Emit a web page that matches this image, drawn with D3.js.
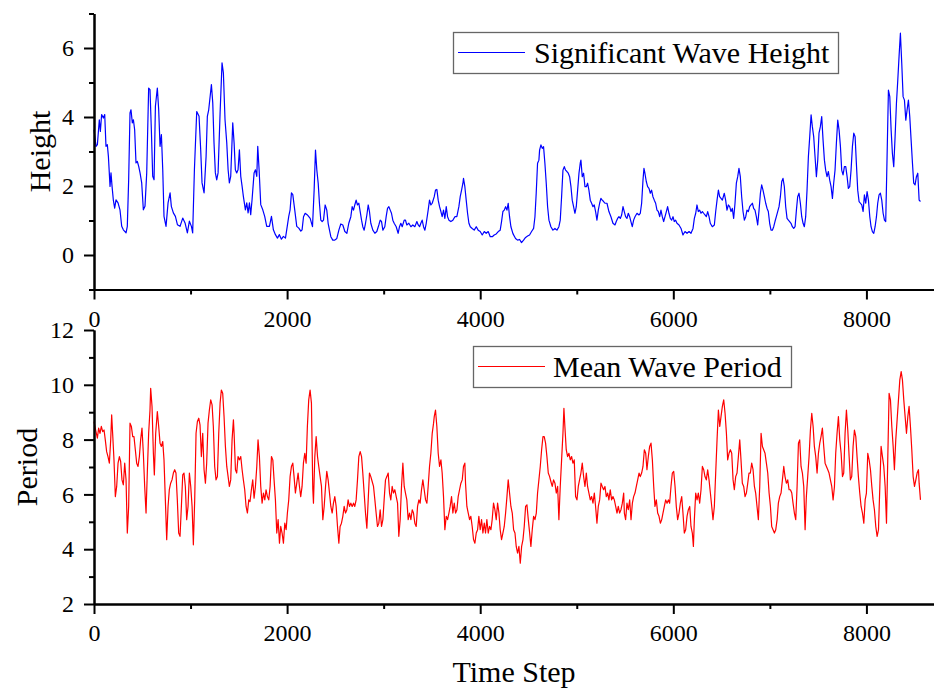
<!DOCTYPE html>
<html>
<head>
<meta charset="utf-8">
<script src="https://cdn.jsdelivr.net/npm/d3@7"></script>
<style>
  body { margin: 0; background: #fff; }
  svg { display: block; }
  text { font-family: "Liberation Serif", "Times New Roman", serif; fill: #000; }
</style>
</head>
<body>
<svg id="chart" width="934" height="695"></svg>
<script>
// ---- data -------------------------------------------------------------
const timeTicks = [0, 2000, 4000, 6000, 8000];
const timeMinorTicks = [1000, 3000, 5000, 7000];
const heightTicks = [0, 2, 4, 6];
const heightMinorTicks = [-1, 1, 3, 5, 7];
const periodTicks = [2, 4, 6, 8, 10, 12];
const periodMinorTicks = [3, 5, 7, 9, 11];
const seriesNames = ["Significant Wave Height", "Mean Wave Period"];
const axisTitles = { x: "Time Step", height: "Height", period: "Period" };

// [time step, significant wave height]
const heightSeries = [
[0,3.63],[21,3.15],[35,3.20],[55,3.92],[66,3.58],[79,4.07],[97,3.97],[111,4.07],[124,3.15],[138,3.20],
[149,2.86],[166,1.99],[176,2.38],[187,1.99],[200,1.60],[214,1.36],[228,1.60],[249,1.51],[269,1.31],[287,0.83],
[304,0.73],[332,0.64],[345,0.83],[359,2.18],[373,4.12],[383,4.21],[397,3.83],[408,3.92],[421,3.63],[435,2.67],
[449,2.71],[463,2.57],[477,2.38],[494,2.09],[511,1.31],[528,1.41],[546,2.38],[566,4.84],[580,4.79],[594,3.63],
[608,2.28],[622,2.18],[636,4.31],[656,4.84],[670,4.21],[684,3.15],[698,3.49],[712,2.47],[725,1.12],[746,0.83],
[767,1.51],[788,1.80],[801,1.41],[822,1.22],[843,1.12],[864,0.88],[891,0.83],[919,1.07],[943,0.93],[967,0.64],
[988,0.98],[1009,0.83],[1022,0.64],[1040,2.47],[1064,4.16],[1088,4.02],[1105,3.05],[1119,2.09],[1140,1.80],[1161,2.86],
[1174,4.02],[1188,4.21],[1216,4.94],[1230,4.41],[1243,3.25],[1257,2.38],[1271,2.18],[1285,2.38],[1306,4.12],[1326,5.57],
[1340,5.28],[1357,3.92],[1375,3.25],[1389,2.47],[1402,2.09],[1416,2.28],[1437,3.83],[1451,3.25],[1464,2.47],[1478,2.38],
[1492,2.47],[1506,3.05],[1520,2.28],[1534,1.99],[1547,1.70],[1568,1.31],[1582,1.51],[1596,1.22],[1610,1.51],[1623,1.17],
[1637,1.60],[1658,2.38],[1672,2.47],[1686,2.28],[1696,3.15],[1710,2.47],[1727,1.46],[1748,1.31],[1768,1.12],[1789,0.83],
[1817,0.83],[1838,1.12],[1858,0.73],[1879,0.59],[1900,0.49],[1920,0.59],[1941,0.46],[1962,0.54],[1983,0.49],[1996,0.73],
[2017,1.12],[2031,1.31],[2045,1.80],[2059,1.75],[2079,1.31],[2100,0.83],[2121,0.78],[2142,0.69],[2155,0.73],[2170,1.11],
[2187,1.21],[2210,1.16],[2239,1.06],[2263,0.82],[2280,1.88],[2294,3.04],[2308,2.46],[2322,2.08],[2335,1.50],[2349,1.01],
[2363,0.97],[2377,1.01],[2394,1.45],[2411,1.30],[2425,0.92],[2439,0.72],[2453,0.53],[2473,0.43],[2494,0.43],[2515,0.48],
[2536,0.72],[2556,0.90],[2577,0.87],[2598,0.68],[2619,0.63],[2639,0.92],[2660,1.11],[2674,1.40],[2688,1.30],[2701,1.45],
[2715,1.59],[2729,1.45],[2743,1.50],[2757,1.26],[2771,1.01],[2784,0.82],[2798,0.72],[2812,0.92],[2826,1.16],[2840,1.45],
[2853,1.26],[2867,0.92],[2888,0.72],[2909,0.63],[2929,0.68],[2950,0.87],[2964,1.01],[2978,0.97],[2992,0.72],[3012,0.82],
[3026,1.11],[3040,1.35],[3054,1.40],[3068,1.30],[3081,1.21],[3095,1.01],[3109,0.92],[3130,0.82],[3150,0.63],[3164,0.82],
[3178,0.92],[3192,0.82],[3213,1.01],[3226,1.01],[3240,0.87],[3261,0.92],[3282,0.82],[3302,0.87],[3323,0.82],[3344,0.97],
[3358,0.87],[3372,0.82],[3385,0.92],[3399,1.01],[3413,0.82],[3427,0.72],[3441,0.92],[3461,1.30],[3475,1.59],[3489,1.45],
[3503,1.50],[3524,1.69],[3537,1.88],[3551,1.90],[3565,1.59],[3579,1.40],[3593,1.26],[3606,1.11],[3620,1.30],[3634,1.06],
[3648,1.40],[3662,1.11],[3676,1.01],[3696,0.97],[3717,1.01],[3738,1.11],[3758,1.11],[3779,1.40],[3793,1.69],[3807,1.88],
[3821,2.08],[3827,2.22],[3841,1.98],[3855,1.59],[3869,1.21],[3883,0.92],[3897,0.82],[3917,0.77],[3938,0.72],[3959,0.82],
[3979,0.72],[4000,0.68],[4021,0.58],[4042,0.68],[4062,0.63],[4083,0.68],[4104,0.53],[4125,0.53],[4145,0.58],[4166,0.61],
[4187,0.68],[4207,0.72],[4221,0.97],[4235,1.26],[4249,1.30],[4263,1.40],[4277,1.30],[4290,1.50],[4304,1.11],[4318,0.82],
[4339,0.62],[4366,0.48],[4387,0.43],[4408,0.45],[4428,0.36],[4449,0.43],[4470,0.51],[4491,0.55],[4511,0.58],[4532,0.68],
[4553,0.77],[4567,1.11],[4580,1.79],[4594,2.66],[4608,2.75],[4615,3.04],[4629,3.19],[4643,3.09],[4656,3.14],[4670,2.66],
[4684,2.08],[4698,1.40],[4712,1.01],[4732,0.82],[4753,0.72],[4774,0.77],[4795,0.72],[4815,0.82],[4829,1.01],[4843,1.69],
[4857,2.46],[4871,2.56],[4884,2.46],[4898,2.42],[4912,2.37],[4926,2.27],[4940,1.98],[4953,1.59],[4967,1.40],[4981,1.21],
[4995,1.40],[5009,1.88],[5023,2.37],[5036,2.66],[5043,2.75],[5057,2.27],[5071,2.37],[5085,1.98],[5099,1.98],[5112,2.08],
[5126,1.88],[5140,1.59],[5154,1.50],[5168,1.40],[5181,1.45],[5195,1.26],[5209,1.01],[5223,1.30],[5237,1.50],[5250,1.64],
[5264,1.59],[5278,1.55],[5292,1.50],[5313,1.50],[5333,1.26],[5354,1.11],[5375,0.92],[5396,0.87],[5409,0.97],[5423,1.06],
[5437,1.11],[5451,1.06],[5465,1.16],[5479,1.40],[5492,1.26],[5506,1.11],[5520,1.06],[5534,1.21],[5548,1.11],[5561,0.97],
[5575,0.82],[5589,1.01],[5603,1.11],[5624,1.21],[5644,1.16],[5658,1.21],[5672,1.50],[5686,2.17],[5696,2.51],[5706,2.37],
[5720,2.13],[5734,1.98],[5748,1.93],[5762,1.79],[5775,1.88],[5789,1.69],[5803,1.59],[5817,1.50],[5831,1.30],[5845,1.26],
[5859,1.11],[5872,1.30],[5886,1.11],[5900,0.97],[5914,1.11],[5928,1.26],[5941,1.40],[5955,1.21],[5969,1.06],[5983,1.01],
[5997,1.11],[6010,0.97],[6024,1.01],[6038,0.92],[6059,0.87],[6080,0.77],[6100,0.58],[6121,0.68],[6142,0.63],[6163,0.68],
[6183,0.63],[6204,0.77],[6218,1.06],[6232,1.21],[6245,1.45],[6259,1.26],[6273,1.30],[6287,1.21],[6301,1.26],[6314,1.21],
[6328,1.16],[6342,1.11],[6356,1.26],[6370,1.11],[6383,0.92],[6404,0.82],[6425,0.87],[6439,1.26],[6453,1.59],[6467,1.88],
[6480,1.69],[6494,1.64],[6508,1.59],[6528,1.79],[6542,1.59],[6556,1.30],[6570,1.45],[6584,1.40],[6598,1.26],[6611,1.35],
[6625,1.06],[6639,1.50],[6653,2.08],[6667,2.27],[6680,2.51],[6694,2.27],[6708,1.69],[6722,1.26],[6736,1.01],[6750,1.11],
[6763,1.30],[6777,1.26],[6791,1.40],[6805,1.45],[6819,1.50],[6832,1.35],[6846,1.30],[6860,1.11],[6874,0.87],[6888,1.30],
[6902,1.79],[6915,2.03],[6929,1.88],[6943,1.69],[6957,1.50],[6971,1.35],[6984,1.26],[6998,0.92],[7012,0.72],[7026,0.72],
[7040,0.82],[7053,0.97],[7067,1.11],[7081,1.26],[7095,1.40],[7109,1.69],[7123,2.13],[7136,2.22],[7150,1.98],[7164,1.40],
[7178,1.06],[7192,1.01],[7205,0.97],[7219,0.92],[7233,0.82],[7247,0.77],[7261,0.82],[7275,1.30],[7288,1.69],[7302,1.79],
[7316,1.50],[7330,1.11],[7344,0.92],[7357,0.82],[7371,1.11],[7385,1.88],[7399,2.85],[7413,3.43],[7427,4.06],[7440,3.72],
[7454,3.43],[7468,2.85],[7482,2.27],[7496,2.75],[7509,3.53],[7523,3.72],[7537,4.01],[7551,3.33],[7565,2.75],[7578,2.46],
[7592,2.27],[7606,2.42],[7620,2.17],[7634,1.98],[7648,1.64],[7661,2.08],[7675,2.46],[7689,3.24],[7703,3.91],[7717,3.62],
[7731,3.14],[7744,2.46],[7758,2.32],[7772,2.56],[7786,2.56],[7800,2.27],[7813,1.93],[7827,1.98],[7841,2.46],[7855,3.14],
[7869,3.53],[7883,3.43],[7896,2.66],[7910,1.88],[7924,1.55],[7938,1.50],[7952,1.45],[7966,1.26],[7979,1.74],[7993,1.50],
[8007,1.84],[8021,1.59],[8035,1.11],[8048,0.82],[8062,0.68],[8076,0.63],[8090,0.82],[8104,1.11],[8117,1.50],[8131,1.74],
[8145,1.79],[8159,1.59],[8173,1.21],[8187,1.01],[8200,0.97],[8214,2.85],[8228,4.78],[8242,4.59],[8256,3.62],[8269,2.95],
[8283,2.56],[8297,3.43],[8311,4.40],[8325,5.07],[8338,5.75],[8352,6.43],[8366,5.56],[8380,4.59],[8394,4.49],[8408,3.91],
[8421,4.20],[8435,4.49],[8449,4.01],[8463,3.33],[8477,2.66],[8490,2.08],[8504,2.03],[8518,2.27],[8532,2.37],[8546,1.59],
[8560,1.55]
];

// [time step, mean wave period]
const periodSeries = [
[0,8.66],[17,8.35],[35,8.05],[48,8.42],[62,8.23],[76,8.48],[90,8.29],[104,8.35],[117,7.99],[131,7.56],
[145,7.38],[159,7.14],[173,7.99],[183,8.90],[193,8.23],[207,7.26],[221,5.92],[235,6.29],[249,7.14],[263,7.38],
[276,7.20],[290,6.53],[304,6.35],[318,7.14],[332,6.53],[345,4.59],[359,5.56],[373,8.60],[387,8.48],[401,8.11],
[414,8.11],[428,7.63],[442,7.14],[456,7.02],[470,7.38],[483,7.99],[497,8.42],[511,7.50],[525,6.29],[539,5.32],
[552,6.78],[566,8.23],[580,9.08],[587,9.87],[601,9.21],[615,7.50],[625,6.71],[639,8.23],[656,9.02],[670,8.48],
[684,7.87],[698,7.75],[712,7.93],[725,7.26],[739,5.80],[753,4.35],[767,5.56],[780,6.17],[794,6.41],[808,6.53],
[822,6.78],[836,6.90],[849,6.78],[863,5.80],[877,4.59],[891,4.47],[905,5.56],[919,6.71],[932,6.78],[946,6.29],
[960,5.08],[974,5.56],[988,6.78],[1002,6.29],[1016,5.56],[1029,4.16],[1043,5.80],[1057,8.23],[1071,8.66],[1085,8.78],
[1098,8.54],[1112,7.38],[1126,8.23],[1140,6.90],[1154,6.41],[1167,7.14],[1181,8.60],[1195,9.08],[1209,9.45],[1223,9.27],
[1236,8.48],[1250,7.02],[1264,6.53],[1278,6.65],[1292,8.23],[1306,9.33],[1319,9.81],[1333,9.69],[1347,8.84],[1361,7.75],
[1375,7.02],[1389,6.65],[1402,6.29],[1416,6.53],[1430,7.99],[1444,8.72],[1451,8.23],[1465,6.90],[1478,6.78],[1492,7.38],
[1506,7.26],[1520,7.38],[1534,6.90],[1547,6.53],[1561,6.17],[1575,5.56],[1589,5.32],[1603,5.80],[1616,5.74],[1630,6.17],
[1644,6.53],[1658,5.86],[1672,6.29],[1686,7.02],[1699,7.99],[1713,7.38],[1727,6.29],[1741,5.68],[1755,6.05],[1769,5.80],
[1782,6.17],[1796,5.92],[1810,5.80],[1824,6.29],[1838,7.38],[1852,7.26],[1865,6.53],[1879,5.80],[1893,4.59],[1907,5.08],
[1921,4.22],[1934,4.83],[1948,4.59],[1962,4.22],[1976,4.95],[1990,4.71],[2003,5.32],[2017,5.80],[2031,6.65],[2045,7.02],
[2059,7.14],[2072,6.65],[2086,6.05],[2100,6.41],[2114,6.78],[2128,6.29],[2141,5.92],[2155,6.29],[2169,7.14],[2183,7.50],
[2197,7.14],[2210,8.48],[2224,9.45],[2238,9.81],[2252,9.33],[2266,6.20],[2273,5.68],[2287,7.38],[2301,8.11],[2315,7.38],
[2328,7.02],[2342,6.65],[2356,6.29],[2370,5.08],[2384,5.56],[2398,6.29],[2411,6.84],[2425,6.53],[2439,6.05],[2453,5.56],
[2467,5.32],[2480,5.68],[2494,5.92],[2508,5.56],[2522,4.83],[2536,4.22],[2549,4.83],[2563,4.95],[2577,5.20],[2591,5.56],
[2605,5.32],[2619,5.44],[2632,5.80],[2646,5.56],[2660,5.68],[2674,5.56],[2688,5.68],[2701,5.56],[2715,5.80],[2729,6.53],
[2743,7.38],[2757,7.56],[2771,7.38],[2784,6.78],[2798,6.05],[2812,5.32],[2826,4.77],[2840,5.80],[2853,6.78],[2867,6.65],
[2881,6.47],[2895,6.29],[2909,5.80],[2922,5.32],[2936,4.83],[2950,4.95],[2964,5.44],[2978,4.83],[2992,5.08],[3005,5.80],
[3019,6.53],[3033,6.65],[3047,6.78],[3061,6.05],[3074,5.80],[3088,6.29],[3102,6.05],[3116,6.17],[3130,5.92],[3144,5.68],
[3157,4.47],[3171,5.08],[3185,6.29],[3199,7.14],[3213,6.29],[3226,6.05],[3240,5.80],[3254,5.08],[3268,5.32],[3282,5.08],
[3296,5.44],[3309,5.32],[3323,4.95],[3337,4.83],[3351,5.56],[3365,5.80],[3378,5.68],[3392,6.17],[3406,6.53],[3420,6.17],
[3434,5.80],[3448,5.68],[3461,6.29],[3475,7.02],[3489,7.50],[3503,8.23],[3517,8.60],[3524,8.84],[3537,9.08],[3551,8.48],
[3565,7.50],[3579,7.02],[3593,7.26],[3606,6.78],[3620,5.92],[3634,4.71],[3648,5.20],[3662,5.08],[3676,5.32],[3689,5.56],
[3703,5.92],[3717,5.32],[3731,5.68],[3745,5.32],[3759,5.44],[3772,5.92],[3786,6.17],[3800,6.41],[3814,6.53],[3827,7.02],
[3841,7.14],[3848,6.41],[3862,5.56],[3876,5.32],[3890,5.08],[3903,5.20],[3917,4.83],[3931,4.35],[3945,4.22],[3959,4.59],
[3973,4.71],[3986,5.20],[4000,4.71],[4014,5.08],[4028,4.59],[4042,4.95],[4055,4.59],[4069,5.08],[4083,4.59],[4097,4.83],
[4111,4.71],[4124,5.08],[4138,5.68],[4152,5.44],[4166,5.08],[4180,5.68],[4194,5.32],[4207,4.71],[4221,4.35],[4235,4.59],
[4249,4.83],[4263,5.32],[4277,5.92],[4290,6.53],[4304,6.05],[4318,5.56],[4332,5.32],[4346,4.71],[4360,4.59],[4373,4.10],
[4387,3.86],[4401,4.10],[4415,3.49],[4429,4.10],[4443,4.35],[4456,4.83],[4470,5.56],[4484,5.62],[4498,5.08],[4512,4.59],
[4525,4.10],[4539,4.71],[4553,5.20],[4567,5.08],[4581,5.32],[4594,6.05],[4608,6.53],[4622,7.02],[4636,7.63],[4650,8.11],
[4663,8.11],[4677,7.87],[4691,7.38],[4705,6.78],[4719,6.65],[4732,6.47],[4746,6.29],[4760,6.53],[4774,6.41],[4788,6.05],
[4802,6.29],[4815,5.08],[4829,6.29],[4843,7.26],[4857,8.23],[4867,9.14],[4877,8.48],[4891,7.63],[4905,7.38],[4919,7.50],
[4933,7.26],[4947,7.38],[4960,7.14],[4974,7.26],[4988,5.92],[5002,5.80],[5016,6.29],[5029,6.53],[5043,6.78],[5057,7.14],
[5071,6.65],[5085,6.29],[5099,6.78],[5112,6.29],[5126,6.05],[5140,5.80],[5154,5.92],[5168,5.68],[5182,6.05],[5195,5.56],
[5209,4.95],[5223,5.56],[5237,5.80],[5251,6.41],[5264,6.29],[5278,6.17],[5292,6.29],[5306,5.92],[5320,6.05],[5333,5.80],
[5347,6.17],[5361,5.80],[5375,5.92],[5389,5.80],[5403,5.56],[5417,5.32],[5430,5.56],[5444,5.32],[5458,5.44],[5472,5.68],
[5486,6.05],[5493,5.32],[5506,5.08],[5520,5.68],[5534,5.44],[5548,5.80],[5562,5.08],[5576,5.68],[5589,5.92],[5603,6.05],
[5617,6.29],[5631,6.53],[5645,6.78],[5658,6.65],[5672,6.78],[5686,7.02],[5700,7.63],[5714,7.50],[5727,6.90],[5741,7.38],
[5755,7.75],[5769,7.87],[5783,7.26],[5797,6.29],[5810,5.56],[5824,5.80],[5838,5.32],[5852,5.20],[5866,4.95],[5880,5.08],
[5893,5.32],[5907,5.56],[5921,5.80],[5935,5.68],[5949,5.80],[5962,5.68],[5976,6.29],[5990,6.78],[6004,6.84],[6018,6.29],
[6031,5.56],[6045,5.08],[6059,5.32],[6073,5.68],[6087,5.92],[6100,5.32],[6114,4.59],[6128,4.71],[6142,5.20],[6156,5.44],
[6170,5.56],[6183,4.83],[6197,4.59],[6208,4.10],[6218,5.08],[6232,6.05],[6246,5.80],[6259,6.05],[6273,5.68],[6287,6.17],
[6301,7.02],[6315,6.90],[6328,6.65],[6342,6.53],[6356,6.90],[6370,6.53],[6384,6.05],[6398,5.56],[6411,5.08],[6425,5.56],
[6439,6.78],[6453,7.99],[6467,9.08],[6481,8.48],[6494,8.84],[6508,9.21],[6522,9.45],[6536,8.96],[6550,8.23],[6563,7.26],
[6577,7.50],[6591,7.63],[6605,7.50],[6619,6.53],[6632,6.17],[6646,6.65],[6660,6.78],[6674,7.38],[6688,7.99],[6701,7.26],
[6715,6.41],[6729,6.29],[6743,5.92],[6757,6.05],[6771,6.41],[6784,6.78],[6798,6.78],[6812,7.14],[6826,6.90],[6840,6.29],
[6853,6.05],[6867,5.56],[6881,5.08],[6895,6.29],[6909,8.23],[6923,7.75],[6936,7.63],[6950,7.50],[6964,7.14],[6978,6.78],
[6992,6.05],[7006,5.56],[7019,4.83],[7033,4.71],[7047,4.59],[7061,4.71],[7075,5.08],[7088,5.68],[7102,5.92],[7116,6.05],
[7130,6.53],[7144,7.02],[7157,6.65],[7171,6.41],[7185,6.53],[7199,6.17],[7213,6.17],[7227,6.05],[7240,5.68],[7254,5.32],
[7268,5.08],[7282,6.29],[7296,7.87],[7309,7.99],[7323,7.02],[7337,6.78],[7351,6.29],[7365,4.71],[7378,5.92],[7392,6.65],
[7406,7.38],[7420,8.35],[7434,8.96],[7448,8.48],[7461,7.75],[7475,7.38],[7489,6.78],[7503,7.50],[7517,7.87],[7530,8.11],
[7544,8.42],[7558,7.75],[7572,7.14],[7586,7.02],[7600,6.90],[7613,6.78],[7627,6.53],[7641,6.29],[7655,5.80],[7669,6.29],
[7682,7.50],[7696,8.23],[7710,8.84],[7724,7.99],[7738,7.50],[7752,6.65],[7765,6.78],[7779,8.23],[7793,9.08],[7807,8.35],
[7821,7.38],[7834,6.53],[7848,6.65],[7862,7.75],[7876,8.35],[7890,8.11],[7903,7.38],[7917,6.65],[7931,6.05],[7945,5.56],
[7959,5.32],[7973,4.95],[7987,5.80],[8000,6.05],[8014,7.50],[8028,7.26],[8042,6.90],[8056,6.29],[8069,5.80],[8083,5.44],
[8097,4.83],[8111,4.47],[8125,4.71],[8139,6.29],[8152,7.75],[8166,7.38],[8180,7.02],[8194,6.29],[8208,4.95],[8221,7.26],
[8235,9.69],[8249,9.45],[8263,8.48],[8277,7.75],[8290,6.90],[8304,7.99],[8318,8.72],[8332,9.45],[8346,10.18],[8360,10.48],
[8373,10.18],[8387,9.45],[8401,8.84],[8415,8.23],[8429,8.84],[8442,9.21],[8456,8.48],[8470,7.63],[8484,6.65],[8498,6.29],
[8512,6.53],[8525,6.78],[8539,6.90],[8546,6.41],[8560,5.80]
];

// ---- layout -----------------------------------------------------------
const svg = d3.select("#chart");
const x = d3.scaleLinear().domain([0, 8700]).range([94, 934]);
const serif = '"Liberation Serif", "Times New Roman", serif';

const panels = [
  {
    data: heightSeries, domain: [-1, 7], range: [289.5, 13.5],
    ticks: heightTicks, minor: heightMinorTicks, color: "#0000ff",
    title: axisTitles.height, titleX: 50,
    name: seriesNames[0],
    legend: { x: 453, y: 32, w: 385, h: 41, lineX: 458, lineLen: 67, textX: 534 }
  },
  {
    data: periodSeries, domain: [2, 12], range: [604, 330],
    ticks: periodTicks, minor: periodMinorTicks, color: "#ff0000",
    title: axisTitles.period, titleX: 37,
    name: seriesNames[1],
    legend: { x: 473, y: 346, w: 318, h: 41, lineX: 478, lineLen: 67, textX: 553 }
  }
];

function styleAxis(g) {
  g.attr("font-family", serif).attr("font-size", 24);
  g.select(".domain").attr("stroke", "#000").attr("stroke-width", 2);
  g.selectAll(".tick line").attr("stroke", "#000").attr("stroke-width", 2);
  g.selectAll(".tick text")
    .style("font-family", serif)
    .style("font-size", "24px")
    .attr("fill", "#000");
}

panels.forEach(p => {
  const y = d3.scaleLinear().domain(p.domain).range(p.range);
  const bottom = p.range[0];
  const top = p.range[1];

  // series line
  const line = d3.line().x(d => x(d[0])).y(d => y(d[1]));
  svg.append("path")
    .datum(p.data)
    .attr("d", line)
    .attr("fill", "none")
    .attr("stroke", p.color)
    .attr("stroke-width", 1.2)
    .attr("stroke-linejoin", "round");

  // y axis (minor + major)
  svg.append("g")
    .attr("transform", `translate(${x(0)},0)`)
    .call(d3.axisLeft(y).tickValues(p.minor).tickSize(5).tickSizeOuter(0).tickFormat(""))
    .call(styleAxis);
  svg.append("g")
    .attr("transform", `translate(${x(0)},0)`)
    .call(d3.axisLeft(y).tickValues(p.ticks).tickSize(10).tickSizeOuter(0).tickPadding(10))
    .call(styleAxis);

  // x axis (minor + major)
  svg.append("g")
    .attr("transform", `translate(0,${bottom})`)
    .call(d3.axisBottom(x).tickValues(timeMinorTicks).tickSize(5).tickSizeOuter(0).tickFormat(""))
    .call(styleAxis);
  svg.append("g")
    .attr("transform", `translate(0,${bottom})`)
    .call(d3.axisBottom(x).tickValues(timeTicks).tickSize(10).tickSizeOuter(0).tickPadding(10).tickFormat(d3.format("d")))
    .call(styleAxis);

  // y axis title
  svg.append("text")
    .attr("transform", `translate(${p.titleX},${(top + bottom) / 2}) rotate(-90)`)
    .attr("text-anchor", "middle")
    .style("font-size", "30px")
    .text(p.title);

  // legend
  const L = p.legend;
  svg.append("rect")
    .attr("x", L.x + 0.5).attr("y", L.y + 0.5)
    .attr("width", L.w).attr("height", L.h)
    .attr("fill", "#fff")
    .attr("stroke", "#666").attr("stroke-width", 1.3);
  const midY = L.y + L.h / 2;
  svg.append("line")
    .attr("x1", L.lineX).attr("x2", L.lineX + L.lineLen)
    .attr("y1", midY).attr("y2", midY)
    .attr("stroke", p.color).attr("stroke-width", 1.2);
  svg.append("text")
    .attr("x", L.textX).attr("y", midY + 10)
    .style("font-size", "30px")
    .text(p.name);
});

// shared x axis title
svg.append("text")
  .attr("x", (x.range()[0] + x.range()[1]) / 2)
  .attr("y", 682)
  .attr("text-anchor", "middle")
  .style("font-size", "30px")
  .text(axisTitles.x);
</script>
</body>
</html>
